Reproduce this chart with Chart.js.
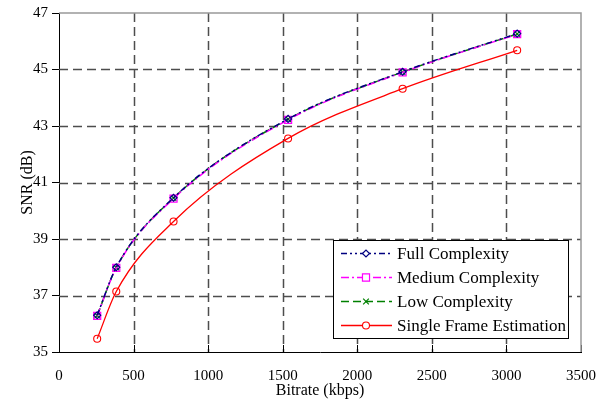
<!DOCTYPE html>
<html>
<head>
<meta charset="utf-8">
<script src="https://cdn.jsdelivr.net/npm/chart.js@4/dist/chart.umd.min.js"></script>
<style>
  html, body { margin: 0; padding: 0; background: #fff; }
  #wrap { width: 614px; height: 400px; }
</style>
</head>
<body>
<div id="wrap"><canvas id="chart" width="614" height="400"></canvas></div>
<script>
// bitrate points (kbps)
const bitrates = [256, 384, 768, 1536, 2304, 3072];

// SNR values (dB) for each method
const fullComplexity = [36.3, 38.0, 40.46, 43.25, 44.92, 46.27];
const mediumComplexity = [36.28, 37.98, 40.43, 43.22, 44.9, 46.25];
const lowComplexity = [36.29, 37.99, 40.45, 43.24, 44.91, 46.26];
const singleFrame = [35.47, 37.14, 39.62, 42.56, 44.32, 45.68];

const seriesNames = ["Full Complexity", "Medium Complexity", "Low Complexity", "Single Frame Estimation"];

// axis ticks
const xTicks = [0, 500, 1000, 1500, 2000, 2500, 3000, 3500];
const yTicks = [35, 37, 39, 41, 43, 45, 47];

Chart.defaults.font.family = "'Liberation Serif', 'Times New Roman', serif";
Chart.defaults.color = "#000";

function toPoints(values) {
  return bitrates.map((b, i) => ({ x: b, y: values[i] }));
}

// dashed grid, inward x ticks, grey top/right frame and the boxed legend
const gridPlugin = {
  id: "gridPlugin",
  beforeDatasetsDraw(chart) {
    const { ctx, chartArea, scales } = chart;
    ctx.save();
    ctx.strokeStyle = "#4d4d4d";
    ctx.lineWidth = 1.5;
    ctx.setLineDash([9, 5]);
    yTicks.slice(1, -1).forEach((v) => {
      const y = Math.round(scales.y.getPixelForValue(v)) + 0.5;
      ctx.beginPath();
      ctx.moveTo(chartArea.left, y);
      ctx.lineTo(chartArea.right, y);
      ctx.stroke();
    });
    xTicks.slice(1, -1).forEach((v) => {
      const x = Math.round(scales.x.getPixelForValue(v)) + 0.5;
      ctx.beginPath();
      ctx.moveTo(x, chartArea.top);
      ctx.lineTo(x, chartArea.bottom);
      ctx.stroke();
    });
    ctx.setLineDash([]);
    ctx.strokeStyle = "#000";
    ctx.lineWidth = 1;
    xTicks.forEach((v) => {
      const x = Math.round(scales.x.getPixelForValue(v)) + 0.5;
      ctx.beginPath();
      ctx.moveTo(x, chartArea.bottom);
      ctx.lineTo(x, chartArea.bottom - 7);
      ctx.stroke();
    });
    ctx.strokeStyle = "#999";
    ctx.lineWidth = 1.5;
    ctx.beginPath();
    ctx.moveTo(chartArea.left, chartArea.top);
    ctx.lineTo(chartArea.right, chartArea.top);
    ctx.lineTo(chartArea.right, chartArea.bottom);
    ctx.stroke();
    ctx.restore();
  },
  afterDraw(chart) {
    const { ctx } = chart;
    const left = 333, top = 240, width = 235, height = 98;
    ctx.save();
    ctx.fillStyle = "#fff";
    ctx.fillRect(left, top, width, height);
    ctx.strokeStyle = "#000";
    ctx.lineWidth = 1;
    ctx.strokeRect(left + 0.5, top + 0.5, width, height);
    const rows = [253, 277, 301, 325];
    chart.data.datasets.forEach((ds, i) => {
      const y = rows[i] + 0.5;
      ctx.strokeStyle = ds.borderColor;
      ctx.lineWidth = ds.borderWidth;
      ctx.setLineDash(ds.borderDash || []);
      ctx.beginPath();
      ctx.moveTo(341, y);
      ctx.lineTo(392, y);
      ctx.stroke();
      ctx.setLineDash([]);
      ctx.strokeStyle = ds.pointBorderColor;
      ctx.fillStyle = "#fff";
      ctx.lineWidth = ds.pointBorderWidth;
      Chart.helpers.drawPoint(ctx, {
        pointStyle: ds.pointStyle,
        radius: ds.pointRadius,
        borderWidth: ds.pointBorderWidth,
        rotation: 0
      }, 366, y);
      ctx.fillStyle = "#000";
      ctx.font = "17px 'Liberation Serif'";
      ctx.textBaseline = "middle";
      ctx.textAlign = "left";
      ctx.fillText(ds.label, 397, y + 1);
    });
    ctx.restore();
  }
};

new Chart(document.getElementById("chart"), {
  type: "line",
  data: {
    datasets: [
      {
        label: seriesNames[0],
        data: toPoints(fullComplexity),
        borderColor: "#000080",
        borderWidth: 1.5,
        borderDash: [6, 3, 2, 3, 2, 3],
        pointStyle: "rectRot",
        pointRadius: 3.5,
        pointBorderWidth: 1.2,
        pointBorderColor: "#000080",
        pointBackgroundColor: "rgba(255,255,255,0)"
      },
      {
        label: seriesNames[1],
        data: toPoints(mediumComplexity),
        borderColor: "#ff00ff",
        borderWidth: 1.5,
        borderDash: [8, 3, 2, 3],
        pointStyle: "rect",
        pointRadius: 5,
        pointBorderWidth: 1.2,
        pointBorderColor: "#ff00ff",
        pointBackgroundColor: "rgba(255,255,255,0)"
      },
      {
        label: seriesNames[2],
        data: toPoints(lowComplexity),
        borderColor: "#008000",
        borderWidth: 1.5,
        borderDash: [8, 4],
        pointStyle: "crossRot",
        pointRadius: 4,
        pointBorderWidth: 1.2,
        pointBorderColor: "#008000",
        pointBackgroundColor: "rgba(255,255,255,0)"
      },
      {
        label: seriesNames[3],
        data: toPoints(singleFrame),
        borderColor: "#ff0000",
        borderWidth: 1.3,
        pointStyle: "circle",
        pointRadius: 3.5,
        pointBorderWidth: 1.1,
        pointBorderColor: "#ff0000",
        pointBackgroundColor: "rgba(255,255,255,0)"
      }
    ]
  },
  options: {
    responsive: false,
    animation: false,
    layout: { padding: { top: 13, right: 33, left: 0, bottom: 0 } },
    elements: { line: { tension: 0.4, cubicInterpolationMode: "monotone" } },
    plugins: { legend: { display: false }, tooltip: { enabled: false } },
    scales: {
      x: {
        type: "linear",
        min: 0,
        max: 3500,
        afterBuildTicks: (scale) => { scale.ticks = xTicks.map((v) => ({ value: v })); },
        afterFit: (scale) => { scale.height = 48; },
        grid: { display: false },
        border: { display: true, color: "#000", width: 1 },
        ticks: { font: { size: 15 }, padding: 7, maxRotation: 0, callback: (v) => String(v) },
        title: { display: true, text: "Bitrate (kbps)", font: { size: 16 }, padding: { top: 0, bottom: 0 } }
      },
      y: {
        type: "linear",
        min: 35,
        max: 47,
        afterBuildTicks: (scale) => { scale.ticks = yTicks.map((v) => ({ value: v })); },
        afterFit: (scale) => { scale.width = 59; },
        grid: { display: true, drawOnChartArea: false, drawTicks: true, tickLength: 7, color: "#000" },
        border: { display: true, color: "#000", width: 1 },
        ticks: { font: { size: 15 }, padding: 4, callback: (v) => String(v) },
        title: { display: true, text: "SNR (dB)", font: { size: 16 }, padding: { top: 18, bottom: 0 } }
      }
    }
  },
  plugins: [gridPlugin]
});
</script>
</body>
</html>
